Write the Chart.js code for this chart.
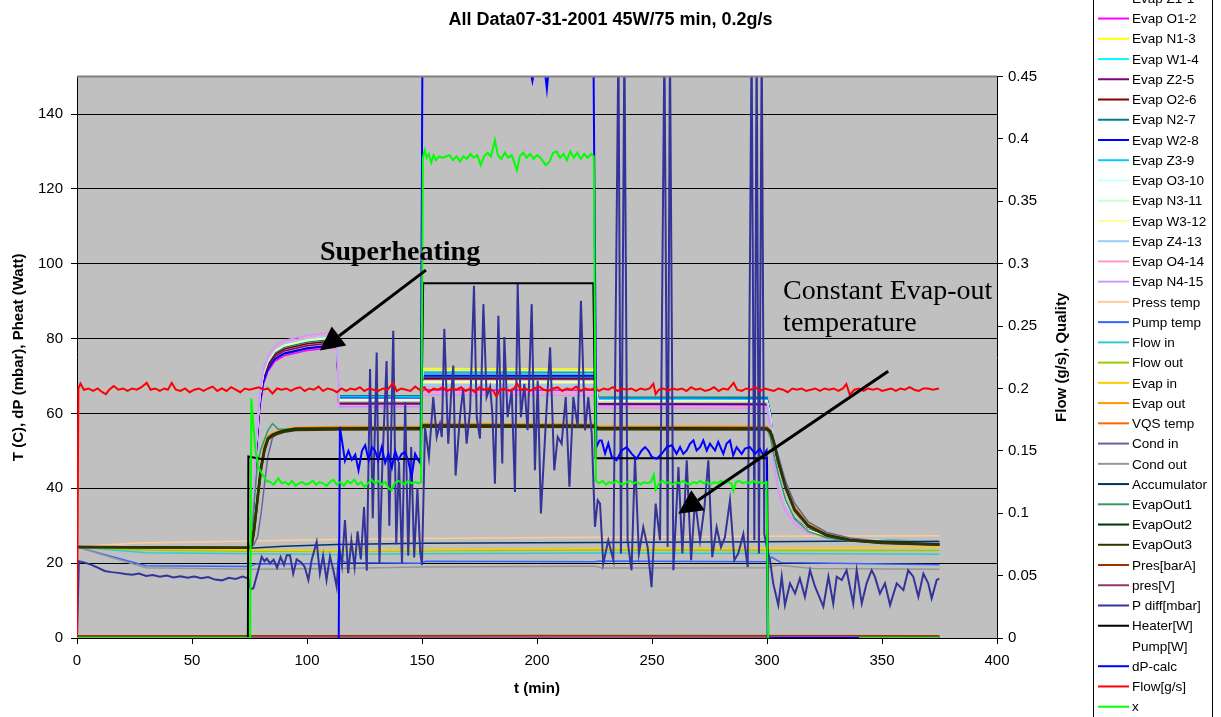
<!DOCTYPE html>
<html>
<head>
<meta charset="utf-8">
<title>All Data07-31-2001</title>
<script src="https://cdn.jsdelivr.net/npm/chart.js@4.4.1/dist/chart.umd.min.js"></script>
<style>
  html, body { margin: 0; padding: 0; background: #fff; }
  #wrap { width: 1221px; height: 717px; }
</style>
</head>
<body>
<div id="wrap"><canvas id="chart" width="1221" height="717"></canvas></div>
<script>
// ---- evaporator thermocouples (deg C), sampled at tEvap (min)
const tEvap = [0, 20, 50, 75, 76.5, 78, 79.5, 81, 83, 86, 90, 100, 113, 113.8, 149.5, 150.5, 225, 226.5, 300, 301.5, 303, 305, 308, 312, 318, 326, 340, 375];
const evapZ1 = [24.3, 24.2, 24.1, 24.0, 32.4, 50.4, 62.4, 68.4, 71.9, 74.6, 76.1, 77.5, 78.4, 62.5, 62.5, 70.2, 70.1, 62.5, 62.4, 58.5, 49.5, 42.0, 35.8, 31.6, 28.7, 27.1, 26.2, 25.7];
const evapO1 = [24.3, 24.2, 24.1, 24.0, 31.7, 49.7, 61.7, 67.7, 71.2, 73.9, 75.4, 76.8, 77.7, 62.0, 62.0, 66.3, 66.2, 62.0, 61.9, 57.8, 48.8, 41.3, 35.3, 31.2, 28.4, 26.9, 26.0, 25.5];
const evapN1 = [24.3, 24.2, 24.1, 24.0, 34.2, 52.2, 64.2, 70.2, 73.7, 76.4, 77.9, 79.3, 80.2, 63.6, 63.6, 72.0, 71.9, 63.5, 63.4, 59.2, 49.8, 42.2, 36.0, 31.8, 28.8, 27.2, 26.3, 25.8];
const evapW1 = [24.3, 24.2, 24.1, 24.0, 34.8, 52.8, 64.8, 70.8, 74.3, 77.0, 78.5, 79.9, 80.8, 64.4, 64.3, 69.8, 69.7, 63.8, 63.7, 59.5, 49.9, 42.2, 35.9, 31.7, 28.7, 27.1, 26.2, 25.7];
const evapZ2 = [24.3, 24.2, 24.1, 24.0, 33.0, 51.0, 63.0, 69.0, 72.5, 75.2, 76.7, 78.1, 79.0, 62.7, 62.7, 69.3, 69.2, 62.6, 62.5, 58.6, 49.4, 41.9, 35.7, 31.5, 28.6, 27.0, 26.1, 25.6];
const evapO2 = [24.3, 24.2, 24.1, 24.0, 33.5, 51.5, 63.5, 69.5, 73.0, 75.7, 77.2, 78.6, 79.5, 62.9, 62.9, 69.5, 69.4, 62.8, 62.7, 58.8, 49.6, 42.0, 35.8, 31.6, 28.6, 27.0, 26.1, 25.6];
const evapN2 = [24.3, 24.2, 24.1, 24.0, 34.0, 52.0, 64.0, 70.0, 73.5, 76.2, 77.7, 79.1, 80.0, 64.8, 64.7, 71.2, 71.1, 64.4, 64.3, 60.0, 50.2, 42.4, 36.1, 31.9, 28.9, 27.3, 26.3, 25.8];
const evapW2 = [24.3, 24.2, 24.1, 24.0, 32.2, 50.2, 62.2, 68.2, 71.7, 74.4, 75.9, 77.3, 78.2, 64.2, 64.1, 70.1, 70.0, 64.0, 63.9, 59.7, 50.0, 42.3, 36.0, 31.8, 28.8, 27.2, 26.2, 25.7];
const evapZ3 = [24.3, 24.2, 24.1, 24.0, 34.5, 52.5, 64.5, 70.5, 74.0, 76.7, 78.2, 79.6, 80.5, 64.5, 64.4, 70.6, 70.5, 63.9, 63.8, 59.6, 49.9, 42.2, 35.9, 31.7, 28.7, 27.1, 26.2, 25.7];
const evapO3 = [24.3, 24.2, 24.1, 24.0, 35.0, 53.0, 65.0, 71.0, 74.5, 77.2, 78.7, 80.1, 81.0, 63.7, 63.7, 68.6, 68.5, 63.5, 63.4, 59.2, 49.7, 42.1, 35.9, 31.7, 28.7, 27.1, 26.2, 25.7];
const evapN3 = [24.3, 24.2, 24.1, 24.0, 34.3, 52.3, 64.3, 70.3, 73.8, 76.5, 78.0, 79.4, 80.3, 63.4, 63.4, 71.5, 71.4, 63.3, 63.2, 59.0, 49.6, 42.0, 35.8, 31.6, 28.7, 27.1, 26.2, 25.7];
const evapW3 = [24.3, 24.2, 24.1, 24.0, 34.6, 52.6, 64.6, 70.6, 74.1, 76.8, 78.3, 79.7, 80.6, 63.5, 63.5, 68.3, 68.2, 63.4, 63.3, 59.1, 49.6, 42.0, 35.8, 31.6, 28.7, 27.1, 26.2, 25.7];
const evapZ4 = [24.3, 24.2, 24.1, 24.0, 34.9, 52.9, 64.9, 70.9, 74.4, 77.1, 78.6, 80.0, 80.9, 63.1, 63.1, 67.6, 67.5, 63.0, 62.9, 58.6, 49.0, 41.5, 35.4, 31.3, 28.4, 26.9, 26.0, 25.5];
const evapO4 = [24.3, 24.2, 24.1, 24.0, 35.3, 53.3, 65.3, 71.3, 74.8, 77.5, 79.0, 80.4, 81.3, 62.1, 62.1, 65.6, 65.5, 61.9, 61.8, 57.0, 47.5, 40.3, 34.6, 30.8, 28.2, 26.8, 25.9, 25.5];
const evapN4 = [24.3, 24.2, 24.1, 24.0, 36.0, 54.0, 66.0, 72.0, 75.4, 78.0, 79.5, 80.9, 81.8, 61.7, 61.7, 64.9, 64.8, 61.5, 61.3, 55.5, 46.0, 39.0, 33.8, 30.3, 28.0, 26.7, 25.9, 25.4];

// ---- evaporator outlet / condenser inlet group, sampled at tOut (min)
const tOut = [0, 40, 75, 76, 77, 78.5, 80, 81.5, 83, 85, 87.5, 90, 95, 113, 149.5, 150.5, 225, 226.5, 300, 301.5, 303, 305, 308, 312, 318, 326, 336, 350, 375];
const evapOut = [24.3, 24.2, 24.1, 25.5, 30.0, 38.5, 46.5, 51.5, 54.0, 54.8, 55.3, 55.8, 56.3, 56.5, 56.6, 57.3, 57.2, 56.6, 56.6, 55.5, 52.5, 47.5, 41.0, 35.0, 30.5, 27.8, 26.4, 25.6, 25.1];
const vqsTemp = [24.3, 24.2, 24.1, 25.3, 29.5, 38.0, 46.0, 51.0, 53.6, 54.5, 55.1, 55.6, 56.1, 56.3, 56.4, 57.1, 57.0, 56.4, 56.4, 55.3, 52.3, 47.3, 40.8, 34.8, 30.3, 27.6, 26.2, 25.5, 25.0];
const condIn = [24.3, 24.2, 24.1, 24.3, 25.0, 27.0, 33.0, 41.0, 48.5, 53.5, 54.8, 55.3, 55.8, 55.9, 56.0, 56.6, 56.5, 55.9, 55.8, 55.4, 53.0, 48.5, 42.0, 36.0, 31.0, 28.2, 26.7, 25.8, 25.2];
const evapOut1 = [24.3, 24.2, 24.1, 27.0, 36.0, 47.0, 50.5, 53.0, 55.5, 57.3, 55.8, 55.8, 55.9, 55.9, 56.0, 56.8, 56.7, 56.0, 55.9, 53.5, 49.0, 43.5, 37.0, 31.8, 28.5, 26.8, 25.9, 25.4, 25.0];
const evapOut2 = [24.3, 24.2, 24.1, 25.0, 29.0, 37.5, 45.5, 50.5, 53.3, 54.3, 54.9, 55.4, 55.9, 56.0, 56.1, 56.8, 56.7, 56.1, 56.0, 55.2, 52.2, 47.0, 40.5, 34.3, 30.0, 27.5, 26.2, 25.5, 25.0];
const evapOut3 = [24.3, 24.2, 24.1, 24.9, 28.7, 37.0, 45.0, 50.0, 53.0, 54.0, 54.6, 55.1, 55.6, 55.7, 55.8, 56.5, 56.4, 55.8, 55.7, 55.0, 52.0, 46.8, 40.3, 34.1, 29.8, 27.4, 26.1, 25.4, 24.9];

// ---- slow loop temperatures [t, T]
const pressTemp = [[0, 24.4], [26, 25.4], [75, 25.9], [113, 26.3], [150, 26.6], [225, 26.9], [300, 27.2], [375, 27.3]];
const pumpTemp = [[0, 24.3], [15, 21.8], [30, 19.3], [75, 19.1], [78, 19.8], [113, 19.9], [114.5, 20.9], [117, 20.2], [150, 20.0], [151.5, 20.5], [225, 20.4], [227, 20.6], [300, 20.4], [302, 21.6], [306, 20.2], [375, 19.6]];
const flowIn = [[0, 24.3], [30, 22.8], [75, 22.5], [113, 22.3], [150, 22.5], [225, 22.7], [300, 22.6], [375, 22.4]];
const flowOut = [[0, 24.3], [30, 23.5], [75, 23.2], [150, 23.3], [225, 23.5], [300, 23.4], [375, 23.4]];
const evapIn = [[0, 24.3], [40, 23.8], [75, 23.5], [113, 23.4], [150, 23.6], [225, 23.9], [300, 24.0], [375, 24.2]];
const condOut = [[0, 24.3], [15, 21.5], [30, 18.8], [75, 18.4], [113, 18.6], [150, 19.0], [225, 19.2], [228, 18.7], [300, 18.8], [304, 19.5], [320, 18.6], [375, 18.4]];
const accumulator = [[0, 24.3], [40, 24.1], [75, 24.0], [90, 24.5], [113, 25.0], [150, 25.3], [225, 25.5], [300, 25.7], [340, 25.9], [375, 25.8]];
const presBarA = [[0, 0.6], [100, 0.6], [200, 0.7], [375, 0.6]];
const presV = [[0, 0.25], [375, 0.25]];

// ---- heater power (W)
const heater = [[0, 0], [74.3, 0], [74.5, 48.5], [80, 47.8], [149.5, 47.8], [150.5, 94.8], [224.5, 94.8], [225.5, 48.0], [300, 48.0], [300.5, 0], [375, 0]];

// ---- pressure difference (mbar)
const pDiff = [[0, 0], [0.8, 20.5], [3, 20.2], [6, 19.6], [9, 18.8], [12, 17.9], [15, 17.6], [18, 17.4], [21, 17.1], [24, 16.9], [27, 17.2], [30, 16.6], [33, 16.8], [36, 16.4], [39, 16.7], [42, 16.2], [45, 16.5], [48, 16.1], [51, 16.4], [54, 16.0], [57, 16.3], [60, 15.6], [63, 15.4], [66, 16.1], [69, 15.8], [72, 16.4], [74.5, 15.9],
  [75.5, 13.0], [76.7, 13.3], [78.8, 18.1], [80.3, 21.7], [81.5, 20.5], [82.5, 21.2], [83.9, 20.0], [85.5, 20.9], [87, 18.8], [88.5, 21.6], [90, 19.5], [91.2, 22.1], [92.6, 22.1], [94, 17.2], [95.5, 21.0], [97.5, 20.2], [99, 19.0], [100.6, 15.5], [102, 20.8], [104.2, 25.7], [105.6, 17.2], [107, 22.0], [108.5, 15.5], [110, 21.8], [111.5, 18.0], [112.9, 13.7],
  [114, 24.3], [115.2, 19.5], [116.5, 31.5], [117.9, 17.3], [119.3, 26.0], [120.7, 19.0], [122, 28.5], [123.4, 21.0], [124.8, 35.0], [126, 18.0], [127.4, 71.9], [128.6, 32.0], [130.3, 76.3], [131.5, 20.0], [132.8, 47.0], [134.6, 74.0], [135.8, 30.0], [137.5, 82.1], [138.8, 25.0], [140, 47.0], [141.3, 20.0], [142.7, 63.0], [144, 22.0], [145.3, 51.0], [146.6, 21.5], [148, 40.0], [149.2, 23.0], [150, 19.5],
  [151.3, 56.4], [153, 48.4], [154.9, 64.4], [156.4, 53.7], [157.8, 57.2], [158.6, 53.7], [159.7, 82.6], [161.4, 51.9], [162.6, 64.4], [163.6, 72.8], [164.6, 43.4], [166.5, 59.0], [167.9, 66.6], [169.4, 51.9], [170.9, 60.8], [172.6, 94.1], [173.8, 59.0], [175.2, 53.3], [176.7, 89.2], [178.1, 64.4], [179.6, 67.1], [180.6, 59.9], [181.7, 41.2], [183.2, 86.1], [184.9, 46.6], [185.8, 80.4], [187.2, 59.0], [189, 66.1], [190.4, 39.0], [191.6, 94.6], [193, 59.0], [194.5, 67.9], [195.9, 55.5], [197.7, 89.2], [199.1, 44.8], [200.3, 68.8], [201.7, 33.3], [203.8, 57.2], [205.7, 77.7], [207.5, 44.8], [209, 53.7], [210.7, 51.9], [212.5, 64.4], [214.1, 40.4], [215.8, 64.4], [217.7, 56.4], [219.1, 90.1], [220.9, 55.5], [222.3, 64.4], [223.8, 54.6], [225.2, 29.7], [226.4, 36.8], [227.4, 35.9], [228.8, 19.9],
  [231, 26.1], [233.2, 20.8], [235.4, 160], [236.5, 22.6], [238, 160], [239.4, 26.1], [241.1, 18.1], [242.6, 48.4], [244.3, 22.6], [246.2, 29.6], [248.1, 24.3], [249.8, 13.6], [251.6, 35.9], [253.5, 26.1], [255.4, 160], [256.8, 24.3], [257.8, 160], [259.3, 18.1], [261.5, 45.7], [263.2, 22.6], [265.1, 47.5], [267, 20.8], [268.7, 36.8], [270.9, 26.1], [272.8, 35.0], [274.5, 47.5], [276.2, 21.6], [278.1, 29.6], [280, 24.3], [281.7, 26.9], [283.9, 36.8], [285.8, 20.8], [287.5, 22.6], [289.7, 27.8], [291.6, 19.0], [293.3, 160], [294.5, 26.1], [295.5, 160], [296.5, 22.6], [297.7, 160], [298.8, 27.8], [299.9, 24.3],
  [301.3, 20.8], [302.7, 14.6], [304.9, 8.8], [306.4, 16.4], [307.8, 8.8], [310, 14.6], [312.2, 11.9], [314.3, 15.9], [316.5, 11.0], [318.7, 18.1], [320.9, 13.7], [324.5, 8.4], [326.7, 16.4], [328.8, 9.2], [330.3, 16.4], [332.5, 15.5], [334.6, 18.1], [337.5, 9.2], [339, 18.1], [341.2, 9.2], [343.3, 14.6], [345.5, 18.1], [346.9, 16.4], [349.1, 11.9], [351.3, 14.6], [353.5, 8.8], [356.4, 14.6], [359.3, 12.8], [361.4, 18.1], [363.6, 16.4], [365.8, 11.0], [368, 17.2], [370.1, 14.6], [371.6, 10.6], [373.8, 15.5], [374.9, 15.9]];

// ---- calculated dP (mbar)
const dpCalc = [[113.8, 0], [114.3, 56.4], [115, 53.6], [116.5, 47.4], [118, 50.0], [119.5, 47.6], [121, 49.0], [122.4, 44.8], [123.9, 50.0], [125.3, 51.5], [126.8, 47.5], [128.2, 51.0], [129.6, 50.0], [131, 47.5], [132.5, 51.0], [134, 46.8], [135.4, 49.2], [136.9, 45.5], [138.3, 50.0], [139.7, 47.5], [141.2, 49.2], [142.6, 49.6], [144, 47.5], [145.5, 43.0], [147, 49.2], [148.4, 47.5], [149.4, 46.6],
  [150.2, 158], [160, 162], [175, 160], [190, 163], [196, 155], [198, 148.8], [200, 156], [203.5, 151], [204.3, 146.7], [206, 158], [215, 163], [224.5, 160],
  [225.8, 51.0], [227.2, 52.8], [228.1, 52.8], [229.6, 49.3], [231, 52.0], [232.5, 48.4], [234.6, 47.5], [236.8, 50.1], [239, 51.0], [241.2, 49.2], [243.3, 47.9], [245.5, 50.1], [247, 51.0], [248.4, 50.1], [249.9, 48.4], [252, 47.9], [254.2, 49.2], [256.4, 51.0], [258.6, 51.5], [260.7, 49.2], [262.2, 51.0], [263.6, 49.2], [265.1, 50.1], [266.5, 51.9], [268, 52.8], [269.4, 50.1], [270.9, 51.0], [272.3, 52.8], [273.8, 50.1], [275.2, 51.9], [277.4, 50.1], [278.8, 52.4], [281, 49.2], [282.4, 51.9], [283.9, 52.8], [285.3, 48.8], [286.8, 51.0], [289, 49.2], [290.4, 50.6], [292.6, 51.0], [294.8, 49.2], [296.9, 50.6], [298.4, 48.8], [299.8, 50.1], [300.3, 0], [340, 0]];

// ---- mass flow (g/s), right axis
const flowGs = [[0, 0], [0.6, 0.2], [1.5, 0.204], [3, 0.199], [5, 0.2], [7, 0.198], [9, 0.2], [11, 0.197], [12.6, 0.1955], [14, 0.199], [16, 0.202], [18, 0.199], [20, 0.2], [22, 0.198], [24, 0.2], [26, 0.199], [28, 0.201], [30.3, 0.2045], [32, 0.199], [34, 0.2], [36, 0.198], [38, 0.2], [39.5, 0.199], [41.2, 0.2045], [43, 0.199], [45, 0.198], [47, 0.2], [49, 0.197], [51, 0.199], [53, 0.2], [55, 0.198], [57, 0.2], [59, 0.2015], [61, 0.198], [63, 0.2], [65, 0.198], [67, 0.201], [69, 0.199], [71, 0.197], [73, 0.2], [75, 0.199], [77, 0.2], [79, 0.201], [81, 0.199], [83, 0.2], [85, 0.196], [87, 0.2], [89, 0.199], [91, 0.2], [93, 0.198], [95, 0.2], [97, 0.201], [99, 0.198], [101, 0.2], [103, 0.199], [105, 0.2015], [107, 0.198], [109, 0.2], [111, 0.199], [113, 0.197], [115, 0.2], [117, 0.198], [119, 0.2], [121, 0.199], [123, 0.201], [125, 0.198], [127, 0.2], [129, 0.199], [131, 0.198], [133, 0.2], [135, 0.199], [137.5, 0.2045], [139, 0.198], [141, 0.2], [143, 0.199], [145, 0.198], [147, 0.2015], [149, 0.199], [151, 0.201], [153, 0.197], [155, 0.2], [157, 0.199], [159, 0.201], [161, 0.198], [163, 0.2], [165, 0.199], [167, 0.201], [169, 0.198], [171, 0.2], [173, 0.197], [175, 0.201], [177, 0.199], [179, 0.2], [181, 0.198], [182.3, 0.194], [184, 0.199], [186, 0.2], [188, 0.198], [190, 0.2], [191.4, 0.2037], [193, 0.199], [195, 0.2], [197, 0.198], [199, 0.2], [201, 0.2015], [203, 0.199], [205, 0.198], [207, 0.2], [209, 0.201], [211, 0.198], [213, 0.2], [215, 0.199], [217, 0.2015], [219, 0.198], [221, 0.2], [223, 0.199], [225, 0.2], [227, 0.198], [229, 0.2], [231, 0.199], [233, 0.201], [235, 0.198], [237, 0.2], [239, 0.199], [241, 0.2], [243, 0.198], [245, 0.2], [247, 0.199], [249, 0.2], [250.6, 0.2037], [251.6, 0.1955], [253, 0.199], [255, 0.2], [257, 0.198], [259, 0.2], [261, 0.199], [263, 0.2], [265, 0.198], [267, 0.201], [269, 0.199], [271, 0.2], [273, 0.198], [275, 0.199], [277, 0.201], [279, 0.198], [281, 0.2], [283, 0.199], [285.5, 0.2045], [287, 0.199], [289, 0.198], [291, 0.2], [293, 0.199], [295, 0.201], [297, 0.198], [299, 0.2], [301, 0.199], [303, 0.198], [305, 0.2], [307, 0.199], [309, 0.197], [311, 0.2], [313, 0.199], [315, 0.2], [317, 0.198], [319, 0.199], [321, 0.2], [323, 0.198], [325, 0.2], [327, 0.199], [329, 0.2], [331, 0.198], [333, 0.2], [334.5, 0.2035], [336, 0.195], [338, 0.199], [340, 0.2], [342, 0.198], [344, 0.2], [346, 0.199], [348, 0.2], [350, 0.198], [352, 0.199], [354, 0.2], [356, 0.198], [358, 0.2], [360, 0.199], [362, 0.201], [364, 0.199], [366, 0.198], [368, 0.2], [370, 0.2], [372, 0.199], [374.8, 0.2]];

// ---- vapour quality x, right axis
const quality = [[0, 0], [75.3, 0], [75.8, 0.192], [76.5, 0.175], [77.5, 0.152], [78.8, 0.137], [80.3, 0.132], [82.5, 0.126], [84, 0.125], [85.5, 0.123], [87.5, 0.128], [89, 0.124], [90.5, 0.125], [92, 0.123], [93.5, 0.126], [95, 0.122], [96.5, 0.124], [98, 0.125], [99.5, 0.123], [101, 0.124], [102.5, 0.126], [104, 0.123], [105.5, 0.125], [107, 0.124], [108.5, 0.122], [110, 0.125], [111.5, 0.127], [113, 0.123], [114.5, 0.125], [116, 0.122], [117.5, 0.126], [119, 0.124], [120.5, 0.127], [122, 0.123], [123.5, 0.125], [125, 0.121], [126.5, 0.124], [128, 0.127], [129.5, 0.124], [131, 0.126], [132.5, 0.123], [134, 0.125], [135.5, 0.12], [136.8, 0.1185], [138, 0.124], [139.5, 0.126], [141, 0.125], [142.5, 0.123], [144, 0.126], [145.5, 0.124], [147, 0.125], [148.5, 0.124], [149.6, 0.125],
  [150.4, 0.385], [151.2, 0.391], [152, 0.385], [153, 0.388], [154, 0.381], [155, 0.387], [156, 0.383], [157.5, 0.386], [159, 0.385], [160.5, 0.386], [162, 0.387], [163.5, 0.383], [165, 0.386], [166.5, 0.382], [168, 0.386], [169.5, 0.384], [171, 0.388], [172.5, 0.385], [174, 0.387], [175.5, 0.379], [177, 0.386], [178.5, 0.389], [180, 0.386], [181.7, 0.399], [183, 0.387], [184.5, 0.384], [186, 0.389], [187.5, 0.385], [189, 0.387], [191.3, 0.375], [192.5, 0.386], [194, 0.389], [195.5, 0.385], [197, 0.388], [198.5, 0.384], [200, 0.387], [201.5, 0.385], [203.8, 0.379], [205.5, 0.382], [207, 0.389], [208.5, 0.39], [210, 0.385], [211.5, 0.388], [213, 0.383], [214.5, 0.39], [216, 0.385], [217.5, 0.389], [219, 0.384], [220.5, 0.388], [222, 0.385], [223.5, 0.388], [224.7, 0.386],
  [225.6, 0.126], [227, 0.124], [228.5, 0.126], [230, 0.123], [231.5, 0.125], [233, 0.124], [234.5, 0.126], [236, 0.124], [237.5, 0.123], [239, 0.125], [240.5, 0.126], [242, 0.124], [243.5, 0.125], [245, 0.123], [246.5, 0.125], [248, 0.124], [249.5, 0.125], [250.8, 0.131], [251.6, 0.119], [253, 0.124], [254.5, 0.126], [256, 0.124], [257.5, 0.125], [259, 0.123], [260.5, 0.125], [262, 0.124], [263.5, 0.126], [265, 0.124], [266.5, 0.123], [268, 0.125], [269.5, 0.124], [271, 0.126], [272.5, 0.124], [274, 0.125], [275.5, 0.123], [277, 0.125], [278.5, 0.124], [280, 0.126], [281.5, 0.124], [283, 0.125], [284.5, 0.124], [285.4, 0.118], [286.5, 0.125], [288, 0.126], [289.5, 0.124], [291, 0.125], [292.5, 0.124], [294, 0.126], [295.5, 0.124], [297, 0.125], [298.5, 0.124], [299.8, 0.125], [300.5, 0], [301, null], [340, 0], [375, 0]];

const zip = (t, v) => t.map((x, i) => [x, v[i]]);

// legend order = drawing order (later entries on top)
const series = [
  { label: 'Evap Z1-1', color: '#000080', data: zip(tEvap, evapZ1) },
  { label: 'Evap O1-2', color: '#FF00FF', data: zip(tEvap, evapO1) },
  { label: 'Evap N1-3', color: '#FFFF00', data: zip(tEvap, evapN1) },
  { label: 'Evap W1-4', color: '#00FFFF', data: zip(tEvap, evapW1) },
  { label: 'Evap Z2-5', color: '#800080', data: zip(tEvap, evapZ2) },
  { label: 'Evap O2-6', color: '#800000', data: zip(tEvap, evapO2) },
  { label: 'Evap N2-7', color: '#008080', data: zip(tEvap, evapN2) },
  { label: 'Evap W2-8', color: '#0000FF', data: zip(tEvap, evapW2) },
  { label: 'Evap Z3-9', color: '#00CCFF', data: zip(tEvap, evapZ3) },
  { label: 'Evap O3-10', color: '#CCFFFF', data: zip(tEvap, evapO3) },
  { label: 'Evap N3-11', color: '#CCFFCC', data: zip(tEvap, evapN3) },
  { label: 'Evap W3-12', color: '#FFFF99', data: zip(tEvap, evapW3) },
  { label: 'Evap Z4-13', color: '#99CCFF', data: zip(tEvap, evapZ4) },
  { label: 'Evap O4-14', color: '#FF99CC', data: zip(tEvap, evapO4) },
  { label: 'Evap N4-15', color: '#CC99FF', data: zip(tEvap, evapN4) },
  { label: 'Press temp', color: '#FFCC99', data: pressTemp },
  { label: 'Pump temp', color: '#3366FF', data: pumpTemp },
  { label: 'Flow in', color: '#33CCCC', data: flowIn },
  { label: 'Flow out', color: '#99CC00', data: flowOut },
  { label: 'Evap in', color: '#FFCC00', data: evapIn },
  { label: 'Evap out', color: '#FF9900', data: zip(tOut, evapOut) },
  { label: 'VQS temp', color: '#FF6600', data: zip(tOut, vqsTemp) },
  { label: 'Cond in', color: '#666699', data: zip(tOut, condIn) },
  { label: 'Cond out', color: '#969696', data: condOut },
  { label: 'Accumulator', color: '#003366', data: accumulator },
  { label: 'EvapOut1', color: '#339966', data: zip(tOut, evapOut1) },
  { label: 'EvapOut2', color: '#003300', data: zip(tOut, evapOut2), width: 2.5 },
  { label: 'EvapOut3', color: '#333300', data: zip(tOut, evapOut3), width: 2.5 },
  { label: 'Pres[barA]', color: '#993300', data: presBarA },
  { label: 'pres[V]', color: '#993366', data: presV },
  { label: 'P diff[mbar]', color: '#333399', data: pDiff, width: 2 },
  { label: 'Heater[W]', color: '#000000', data: heater, width: 2 },
  { label: 'Pump[W]', color: null, data: [] },
  { label: 'dP-calc', color: '#0000FF', data: dpCalc, width: 2 },
  { label: 'Flow[g/s]', color: '#FF0000', data: flowGs, width: 2, axis: 'y2' },
  { label: 'x', color: '#00FF00', data: quality, width: 2, axis: 'y2' }
];

// annotation text and arrows, in data units (t, left axis)
const notes = [
  { text: 'Superheating', t: 105.6, v: 101.0, font: 'bold 28px "Liberation Serif", "Times New Roman", serif' },
  { text: 'Constant Evap-out', t: 307, v: 90.6, font: '28px "Liberation Serif", "Times New Roman", serif' },
  { text: 'temperature', t: 307, v: 81.9, font: '28px "Liberation Serif", "Times New Roman", serif' }
];
const arrows = [
  { from: [151.7, 98.3], to: [105.6, 76.8] },
  { from: [352.7, 71.3], to: [261.4, 33.2] }
];

const decor = {
  id: 'decor',
  beforeDraw(chart) {
    const { ctx, chartArea: a } = chart;
    ctx.save();
    ctx.fillStyle = '#C0C0C0';
    ctx.fillRect(a.left, a.top, a.right - a.left, a.bottom - a.top);
    ctx.restore();
  },
  afterDraw(chart) {
    const { ctx, chartArea: a, scales } = chart;
    const sx = scales.x, sy = scales.y;
    ctx.save();
    // grey frame on top
    ctx.strokeStyle = '#808080';
    ctx.lineWidth = 2;
    ctx.beginPath();
    ctx.moveTo(a.left, a.top);
    ctx.lineTo(a.right, a.top);
    ctx.stroke();

    // notes
    ctx.fillStyle = '#000';
    ctx.textAlign = 'left';
    ctx.textBaseline = 'alphabetic';
    notes.forEach(n => {
      ctx.font = n.font;
      ctx.fillText(n.text, sx.getPixelForValue(n.t), sy.getPixelForValue(n.v));
    });

    // arrows
    arrows.forEach(ar => {
      const x0 = sx.getPixelForValue(ar.from[0]), y0 = sy.getPixelForValue(ar.from[1]);
      const x1 = sx.getPixelForValue(ar.to[0]), y1 = sy.getPixelForValue(ar.to[1]);
      const ang = Math.atan2(y1 - y0, x1 - x0);
      const len = 24, half = 12;
      const bx = x1 - len * Math.cos(ang), by = y1 - len * Math.sin(ang);
      ctx.strokeStyle = '#000';
      ctx.lineWidth = 3;
      ctx.beginPath();
      ctx.moveTo(x0, y0);
      ctx.lineTo(bx, by);
      ctx.stroke();
      ctx.beginPath();
      ctx.moveTo(x1, y1);
      ctx.lineTo(bx + half * Math.sin(ang), by - half * Math.cos(ang));
      ctx.lineTo(bx - half * Math.sin(ang), by + half * Math.cos(ang));
      ctx.closePath();
      ctx.fill();
    });

    // right axis title
    ctx.save();
    ctx.translate(a.right + 65, (a.top + a.bottom) / 2);
    ctx.rotate(-Math.PI / 2);
    ctx.textAlign = 'center';
    ctx.textBaseline = 'middle';
    ctx.font = 'bold 15px Arial, "Liberation Sans", sans-serif';
    ctx.fillText('Flow (g/s), Quality', 0, 0);
    ctx.restore();

    // legend box
    const lx = 1093, lw = 119, y0 = -1.7, step = 20.24;
    ctx.fillStyle = '#fff';
    ctx.fillRect(lx, -5, lw, 730);
    ctx.strokeStyle = '#000';
    ctx.lineWidth = 1;
    ctx.strokeRect(lx + 0.5, -5, lw, 730);
    ctx.font = '13.5px Arial, "Liberation Sans", sans-serif';
    ctx.textBaseline = 'middle';
    series.forEach((s, i) => {
      const yy = y0 + i * step;
      if (s.color) {
        ctx.strokeStyle = s.color;
        ctx.lineWidth = 2;
        ctx.beginPath();
        ctx.moveTo(lx + 5, yy);
        ctx.lineTo(lx + 36, yy);
        ctx.stroke();
      }
      ctx.fillStyle = '#000';
      ctx.fillText(s.label, lx + 39, yy + 1);
    });
    ctx.restore();
  }
};

Chart.defaults.font.family = 'Arial, "Liberation Sans", sans-serif';
Chart.defaults.color = '#000';

const axisFont = { size: 15 };
const titleFont = { size: 15, weight: 'bold' };

new Chart(document.getElementById('chart'), {
  type: 'line',
  data: {
    datasets: series.map((s, i) => ({
      label: s.label,
      data: s.data,
      borderColor: s.color || 'rgba(0,0,0,0)',
      backgroundColor: s.color || 'rgba(0,0,0,0)',
      borderWidth: s.width || 1.5,
      pointRadius: 0,
      pointHoverRadius: 0,
      tension: 0,
      fill: false,
      yAxisID: s.axis || 'y',
      order: series.length - i
    }))
  },
  options: {
    responsive: false,
    animation: false,
    events: [],
    layout: { padding: 0 },
    plugins: {
      legend: { display: false },
      tooltip: { enabled: false },
      title: {
        display: true,
        text: 'All Data07-31-2001 45W/75 min, 0.2g/s',
        font: { size: 18, weight: 'bold' },
        color: '#000',
        padding: { top: 9, bottom: 46 }
      }
    },
    scales: {
      x: {
        type: 'linear', min: 0, max: 400,
        ticks: { stepSize: 50, font: axisFont, padding: 8, maxRotation: 0 },
        grid: { drawOnChartArea: false, tickLength: 6, tickColor: '#000' },
        border: { color: '#000' },
        title: { display: true, text: 't (min)', font: titleFont, padding: { top: 0, bottom: 19 } },
        afterFit(s) { s.height = 79; }
      },
      y: {
        type: 'linear', position: 'left', min: 0, max: 150, bounds: 'data',
        ticks: { stepSize: 20, font: axisFont, padding: 8 },
        grid: { color: '#000', tickColor: '#000', tickLength: 6 },
        border: { color: '#000' },
        title: { display: true, text: 'T (C), dP (mbar), Pheat (Watt)', font: titleFont, padding: { top: 10, bottom: 0 } },
        afterBuildTicks(s) { s.ticks = s.ticks.filter(t => t.value <= 140); },
        afterFit(s) { s.width = 77; }
      },
      y2: {
        type: 'linear', position: 'right', min: 0, max: 0.45,
        ticks: { stepSize: 0.05, font: axisFont, padding: 5, callback: v => String(+v.toFixed(2)) },
        grid: { drawOnChartArea: false, tickColor: '#000', tickLength: 6 },
        border: { color: '#000' },
        afterFit(s) { s.width = 224; }
      }
    }
  },
  plugins: [decor]
});
</script>
</body>
</html>
